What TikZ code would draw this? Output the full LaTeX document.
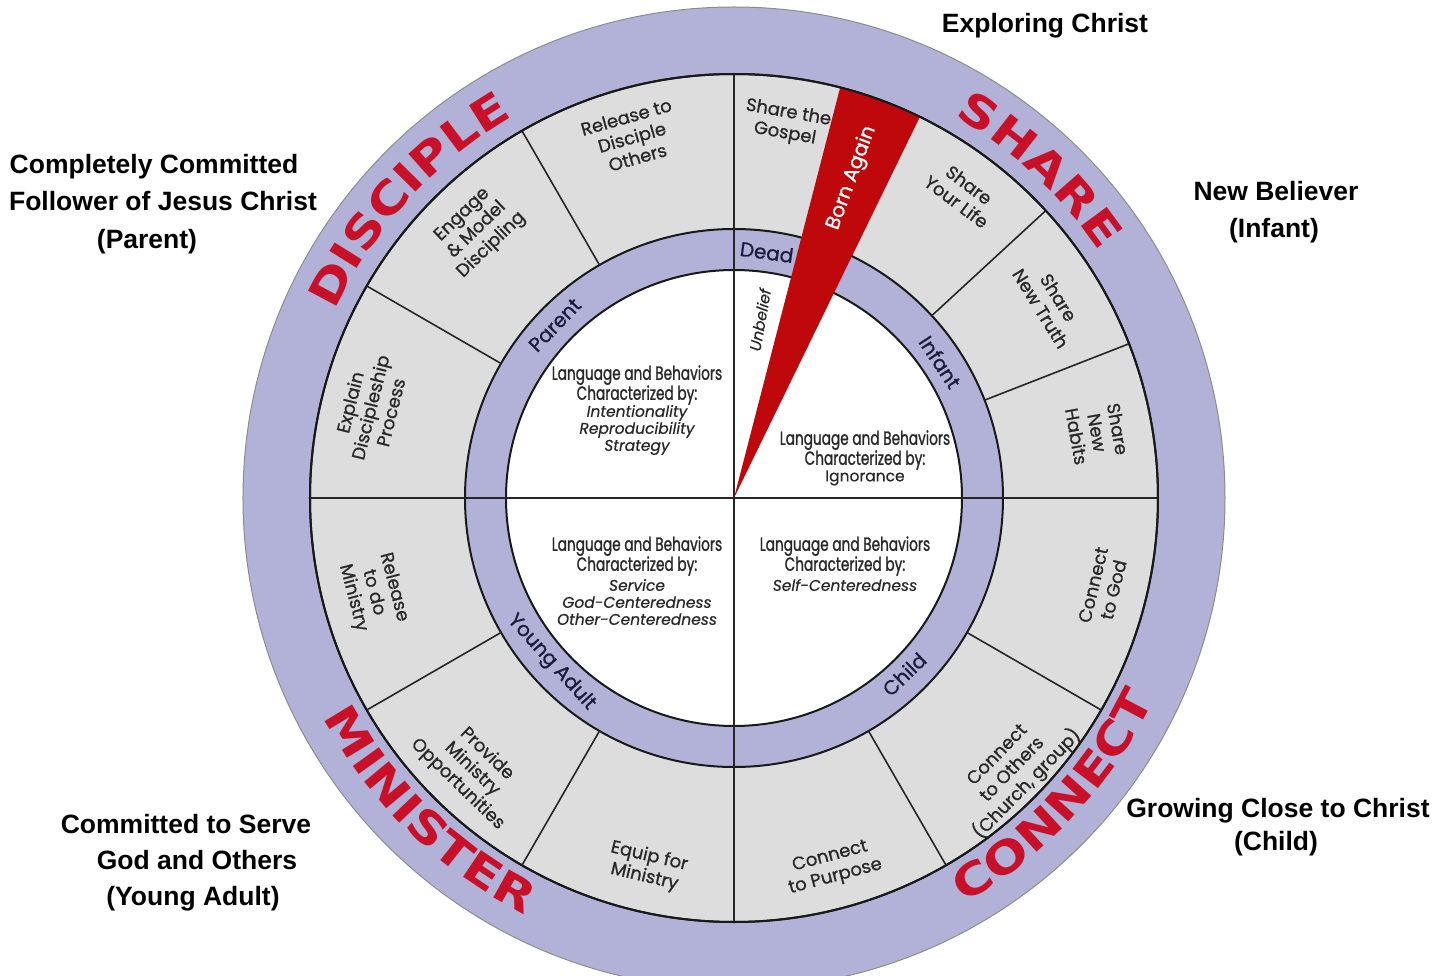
\documentclass[tikz,border=0pt]{standalone}
\usepackage{fontspec}
\usetikzlibrary{decorations.text}
\newfontfamily\labfont{Liberation Sans}
\newfontfamily\sectfont{Poppins}[FakeBold=0.9]
\newfontfamily\traitfont{Poppins}[FakeBold=0.5]
\newfontfamily\condfont{Poppins}[FakeStretch=0.72,FakeBold=1.1]
\newfontfamily\wordfont{DejaVu Sans}[FakeStretch=1.2]
\definecolor{ringpurple}{RGB}{178,178,216}
\definecolor{ringgrey}{RGB}{221,221,221}
\definecolor{wedgered}{RGB}{190,8,12}
\definecolor{wordred}{RGB}{200,16,40}
\definecolor{inktext}{RGB}{40,40,40}
\definecolor{ringink}{RGB}{28,28,58}
\tikzset{
  sect/.style={font=\sectfont\fontsize{18}{21}\selectfont, text=inktext, align=center, inner sep=0pt},
  ringlab/.style={font=\sectfont\fontsize{20}{22}\selectfont, text=ringink, inner sep=0pt},
  head/.style={font=\condfont\fontsize{19}{20}\selectfont, text=inktext, align=center, inner sep=0pt},
  trait/.style={font=\traitfont\itshape\fontsize{15.5}{17}\selectfont, text=inktext, align=center, inner sep=0pt},
  outlab/.style={font=\labfont\bfseries\fontsize{26.5}{30}\selectfont, text=black, anchor=base, inner sep=0pt},
  divider/.style={draw=black!85, line width=1.6pt},
  ring/.style={draw=black!90, line width=2pt},
}
\begin{document}
\begin{tikzpicture}[x=1pt,y=1pt]
\fill[white] (-734,-477) rectangle (715,498);
\useasboundingbox (-734,-477) rectangle (715,498);
% rings
\draw[fill=ringpurple, draw=black!45, line width=1pt] (0,0) circle[radius=491pt];
\draw[fill=ringgrey, ring] (0,0) circle[radius=424pt];
\draw[fill=ringpurple, ring] (0,0) circle[radius=269pt];
\draw[fill=white, ring] (0,0) circle[radius=228pt];
% sector dividers
\foreach \a in {120,150,210,240,300,330,21.33,42.67}
  \draw[divider] (\a:269) -- (\a:424);
\draw[divider] (90:424) -- (270:424);
\draw[divider] (180:424) -- (0:424);
% born again wedge
\fill[wedgered] (0,0) -- (75.5:424) arc[start angle=75.5, end angle=64, radius=424pt] -- cycle;
\draw[ring] (0,0) circle[radius=424pt];
% outer words
\path[decorate, decoration={text along path, text align=center, text color=wordred,
  text={|\wordfont\bfseries\fontsize{44}{44}\selectfont|DISCIPLE}}]
  (172.5:441) arc[start angle=172.5, end angle=102.5, radius=441pt];
\path[decorate, decoration={text along path, text align=center, text color=wordred,
  text={|\wordfont\bfseries\fontsize{44}{44}\selectfont|SHARE}}]
  (82:441) arc[start angle=82, end angle=12, radius=441pt];
\path[decorate, decoration={text along path, text align=center, text color=wordred,
  text={|\wordfont\bfseries\fontsize{44}{44}\selectfont|CONNECT}}]
  (-78:466) arc[start angle=-78, end angle=-8, radius=466pt];
\path[decorate, decoration={text along path, text align=center, text color=wordred,
  text={|\wordfont\bfseries\fontsize{44}{44}\selectfont|MINISTER}}]
  (190.7:466) arc[start angle=190.7, end angle=260.7, radius=466pt];
% sector texts
\node[sect, rotate=15.8] (s1) at (105.8:375) {Release to\\Disciple\\Others};
\node[sect, rotate=43.8] (s2) at (133.8:371) {Engage\\\& Model\\Discipling};
\node[sect, rotate=76] (s3) at (166:375) {Explain\\Discipleship\\Process};
\node[sect, rotate=-75.3] (s4) at (194.7:373) {Release\\to do\\Ministry};
\node[sect, rotate=-44] (s5) at (226:377) {Provide\\Ministry\\Opportunities};
\node[sect, rotate=-13.3] (s6) at (256.7:379) {Equip for\\Ministry};
\node[sect, rotate=15] (s7) at (285:382) {Connect\\to Purpose};
\node[sect, rotate=45.7] (s8) at (315.7:390) {Connect\\to Others\\(Church, group)};
\node[sect, rotate=76.4] (s9) at (346.4:380) {Connect\\to God};
\node[sect, rotate=-79.8] (s10) at (10.2:369) {Share\\New\\Habits};
\node[sect, rotate=-58.3] (s11) at (31.7:371) {Share\\New Truth};
\node[sect, rotate=-36.9] (s12) at (53.1:381) {Share\\Your Life};
\node[sect, rotate=-10] (s13) at (82:378) {Share the\\Gospel};
\node[font=\sectfont\fontsize{20}{22}\selectfont, text=white, rotate=69.8, inner sep=0pt] (born) at (69.8:341) {Born Again};
\node[trait, rotate=80] (unb) at (81.7:180) {Unbelief};
% ring labels
\node[ringlab, rotate=-8] (dead) at (82.4:248) {Dead};
\node[ringlab, rotate=-56.6] (infant) at (33.4:247) {Infant};
\node[ringlab, rotate=44] (child) at (-46:245) {Child};
\node[ringlab, rotate=-48] (yadult) at (222:246) {Young Adult};
\node[ringlab, rotate=46] (parent) at (136:249) {Parent};
% centre texts
\node[head] (h1) at (-97,113) {Language and Behaviors\\Characterized by:};
\node[trait] (t1) at (-97,68) {Intentionality\\Reproducibility\\Strategy};
\node[head] (h2) at (131,48) {Language and Behaviors\\Characterized by:};
\node[trait, font=\traitfont\fontsize{15.5}{17}\selectfont] (t2) at (131,20) {Ignorance};
\node[head] (h3) at (-97,-58) {Language and Behaviors\\Characterized by:};
\node[trait] (t3) at (-97,-104) {Service\\God-Centeredness\\Other-Centeredness};
\node[head] (h4) at (111,-58) {Language and Behaviors\\Characterized by:};
\node[trait] (t4) at (111,-87) {Self-Centeredness};
% outside labels
\node[outlab] (explo) at (311,465) {Exploring Christ};
\node[outlab] (p1) at (-580,324) {Completely Committed};
\node[outlab] (p2) at (-571,287) {Follower of Jesus Christ};
\node[outlab] (p3) at (-587,249) {(Parent)};
\node[outlab] (i1) at (542,297) {New Believer};
\node[outlab] (i2) at (540,260) {(Infant)};
\node[outlab] (c1) at (544,-319) {Growing Close to Christ};
\node[outlab] (c2) at (542,-352) {(Child)};
\node[outlab] (y1) at (-548,-335) {Committed to Serve};
\node[outlab] (y2) at (-537,-371) {God and Others};
\node[outlab] (y3) at (-541,-407) {(Young Adult)};
\end{tikzpicture}
\end{document}
